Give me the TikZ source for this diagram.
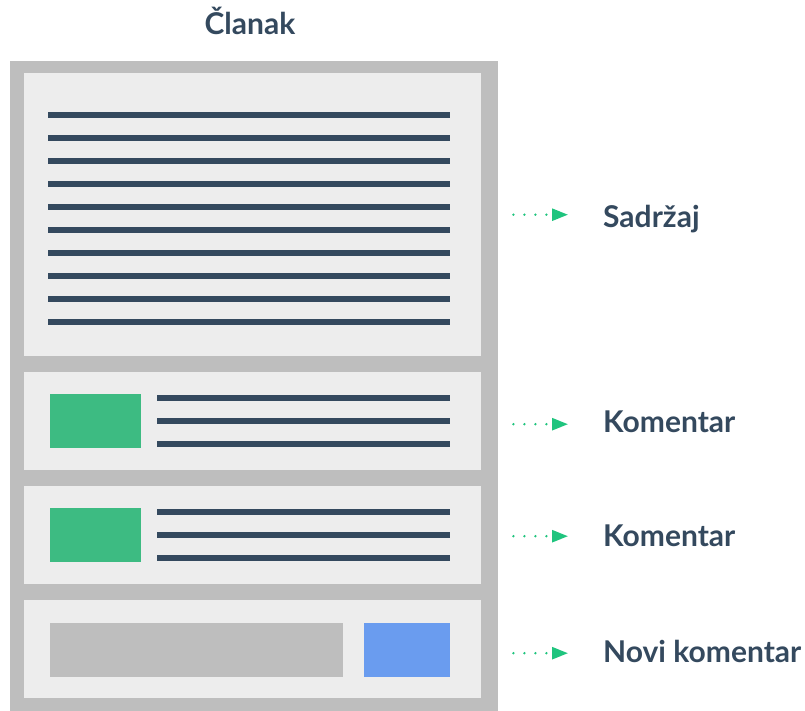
\documentclass[tikz,border=0pt]{standalone}
\usepackage{fontspec}
\setmainfont{Lato}
\usetikzlibrary{arrows.meta, positioning, calc}
\definecolor{clnavy}{HTML}{34495E}
\definecolor{clgreen}{HTML}{3DBB82}
\definecolor{clarrow}{HTML}{1FC47E}
\definecolor{clblue}{HTML}{6A9CEF}
\definecolor{clframe}{HTML}{BEBEBE}
\definecolor{clpanel}{HTML}{EDEDED}

\begin{document}
\begin{tikzpicture}[
    x=1pt, y=-1pt,
    frame/.style={
        rectangle,
        fill=clframe,
        inner sep=0pt,
        anchor=north west,
        minimum width=488pt,
        minimum height=650pt
    },
    panel/.style={
        rectangle,
        fill=clpanel,
        inner sep=0pt,
        anchor=north west,
        minimum width=457.5pt,
        minimum height=#1
    },
    thumb/.style={
        rectangle,
        fill=#1,
        inner sep=0pt,
        anchor=north west,
        minimum height=54pt
    },
    textline/.style={
        draw=clnavy,
        line width=6.5pt
    },
    link/.style={
        clarrow,
        line width=2.6pt,
        line cap=round,
        dash pattern=on 0pt off 11pt,
        shorten <=32pt,
        shorten >=35pt,
        -{Triangle[length=16pt, width=12pt, line cap=butt]}
    },
    label/.style={
        font=\bfseries\fontsize{30}{34}\selectfont,
        text=clnavy,
        inner sep=0pt,
        anchor=base west
    }
]

\useasboundingbox (0,0) rectangle (805,711);

% Title
\node[label, anchor=base] (title) at (250,35) {Članak};

% Frame and sections
\node[frame] (frame) at (10,61) {};
\node[panel=283pt] (content) at (23.5,73) {};
\node[panel=98pt] (comment1) at (23.5,372) {};
\node[panel=98pt] (comment2) at (23.5,486) {};
\node[panel=98pt] (newcomment) at (23.5,600) {};

% Article text
\foreach \i in {0,...,9}
    \draw[textline] (48,115+23*\i) -- (450,115+23*\i);

% Comments
\node[thumb=clgreen, minimum width=91pt] (avatar1) at (50,394) {};
\node[thumb=clgreen, minimum width=91pt] (avatar2) at (50,508) {};
\foreach \y in {398,421,444,512,535,558}
    \draw[textline] (157,\y) -- (450,\y);

% New comment form
\node[thumb=clframe, minimum width=293pt] (input) at (50,623) {};
\node[thumb=clblue, minimum width=86pt] (submit) at (364,623) {};

% Labels
\node[label] (lblcontent) at (603,228) {Sadržaj};
\node[label] (lblcomment1) at (603,432) {Komentar};
\node[label] (lblcomment2) at (603,546) {Komentar};
\node[label] (lblnew) at (603,662) {Novi komentar};

% Arrows
\draw[link] (content.east) -- (content.east -| lblcontent.west);
\draw[link] ([yshift=-3pt]comment1.east) -- ([yshift=-3pt]comment1.east -| lblcomment1.west);
\draw[link] ([yshift=-1pt]comment2.east) -- ([yshift=-1pt]comment2.east -| lblcomment2.west);
\draw[link] ([yshift=-4pt]newcomment.east) -- ([yshift=-4pt]newcomment.east -| lblnew.west);

\end{tikzpicture}
\end{document}
